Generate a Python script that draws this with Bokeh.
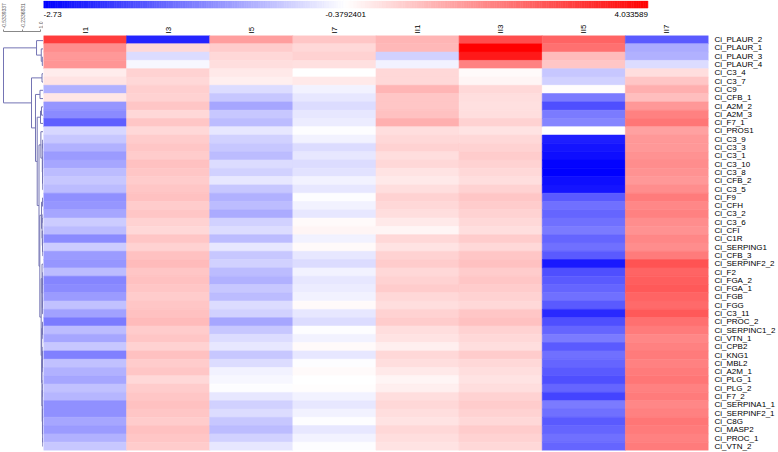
from bokeh.plotting import figure
from bokeh.models import ColumnDataSource, Range1d, FactorRange, FixedTicker
from bokeh.layouts import row, column
from bokeh.embed import file_html
from bokeh.resources import INLINE

columns = ["I1", "I3", "I5", "I7", "II1", "II3", "II5", "II7"]
genes = ["Ci_PLAUR_2", "Ci_PLAUR_1", "Ci_PLAUR_3", "Ci_PLAUR_4", "Ci_C3_4", "Ci_C3_7",
         "Ci_C9", "Ci_CFB_1", "Ci_A2M_2", "Ci_A2M_3", "Ci_F7_1", "Ci_PROS1", "Ci_C3_9",
         "Ci_C3_3", "Ci_C3_1", "Ci_C3_10", "Ci_C3_8", "Ci_CFB_2", "Ci_C3_5", "Ci_F9",
         "Ci_CFH", "Ci_C3_2", "Ci_C3_6", "Ci_CFI", "Ci_C1R", "Ci_SERPING1", "Ci_CFB_3",
         "Ci_SERPINF2_2", "Ci_F2", "Ci_FGA_2", "Ci_FGA_1", "Ci_FGB", "Ci_FGG", "Ci_C3_11",
         "Ci_PROC_2", "Ci_SERPINC1_2", "Ci_VTN_1", "Ci_CPB2", "Ci_KNG1", "Ci_MBL2",
         "Ci_A2M_1", "Ci_PLG_1", "Ci_PLG_2", "Ci_F7_2", "Ci_SERPINA1_1", "Ci_SERPINF2_1",
         "Ci_C8G", "Ci_MASP2", "Ci_PROC_1", "Ci_VTN_2"]

I1 = [3.0, 1.6, 1.4, 1.45, -0.05, 0.1, -1.1, 0.05, -1.35, -1.45, -1.85, -0.75, -0.9, -1.1,
      -1.3, -1.2, -1.0, -0.9, -1.0, -1.4, -1.35, -1.2, -0.85, -1.0, -1.45, -0.85, -1.3, -1.35,
      -1.0, -1.5, -1.45, -1.3, -0.95, -1.25, -1.6, -1.0, -1.2, -0.9, -1.55, -0.95, -1.1, -1.2,
      -0.95, -1.05, -1.4, -1.4, -1.2, -1.3, -1.1, -0.9]
I3 = [-2.4, 0.3, -0.7, -0.45, 0.4, 0.3, 0.45, 0.4, 0.6, 0.3, 0.6, 0.3, 0.5, 0.6, 0.5, 0.7,
      0.6, 0.5, 0.6, 0.7, 0.5, 0.6, 0.4, 0.3, 0.6, 0.4, 0.7, 0.8, 0.6, 0.7, 0.6, 0.5, 0.6, 0.7,
      0.8, 0.5, 0.6, 0.4, 0.7, 0.5, 0.6, 0.3, 0.5, 0.6, 0.7, 0.6, 0.5, 0.7, 0.6, 0.5]
I5 = [1.3, 0.5, 0.3, 0.2, 0.0, -0.1, -0.7, -0.9, -1.2, -0.9, -1.0, -0.6, -0.8, -0.9, -1.0,
      -0.7, -0.8, -0.6, -0.9, -1.1, -1.0, -1.15, -0.8, -0.7, -1.0, -0.6, -0.9, -0.8, -1.0,
      -1.1, -0.9, -1.0, -0.7, -0.8, -1.2, -0.9, -0.7, -0.6, -0.9, -0.7, -0.5, -0.45, -0.4,
      -0.6, -0.8, -0.7, -0.9, -1.0, -0.8, -0.6]
I7 = [0.6, 0.3, 0.4, 0.15, -0.38, 0.0, -0.5, -0.6, -0.7, -0.6, -0.55, -0.4, -0.5, -0.7, -0.6,
      -0.7, -0.65, -0.5, -0.6, -0.4, -0.5, -0.6, -0.3, -0.2, -0.5, -0.3, -0.6, -0.7, -0.5,
      -0.6, -0.55, -0.5, -0.3, -0.6, -0.7, -0.4, -0.5, -0.3, -0.6, -0.4, -0.3, -0.38, -0.35,
      -0.5, -0.6, -0.5, -0.4, -0.6, -0.5, -0.4]
II1 = [0.9, 0.85, -0.8, -0.5, 0.3, 0.3, 0.9, 0.6, 0.6, 0.7, 1.0, 0.2, 0.3, 0.4, 0.2, 0.3, 0.1,
       0.0, 0.2, 0.4, 0.3, 0.2, 0.0, -0.2, 0.3, 0.1, 0.4, 0.5, 0.3, 0.4, 0.5, 0.3, 0.2, 0.4,
       0.5, 0.2, 0.1, -0.1, 0.3, 0.2, 0.0, -0.2, -0.1, 0.2, 0.3, 0.2, 0.1, 0.3, 0.2, 0.1]
II3 = [2.7, 4.03, 3.6, 1.8, -0.3, -0.2, 0.3, 0.2, 0.15, 0.2, 0.4, 0.1, 0.3, 0.4, 0.5, 0.4, 0.3,
       0.2, 0.4, 0.6, 0.5, 0.4, 0.3, 0.2, 0.5, 0.3, 0.6, 0.7, 0.5, 0.6, 0.5, 0.4, 0.3, 0.6, 0.7,
       0.4, 0.3, 0.2, 0.5, 0.3, 0.2, 0.1, 0.2, 0.4, 0.5, 0.4, 0.3, 0.5, 0.4, 0.3]
II5 = [2.3, 2.1, 0.8, 0.6, -0.9, -0.8, -0.35, -1.6, -2.0, -1.6, -1.5, -0.38, -2.45, -2.55, -2.6,
       -2.7, -2.73, -2.6, -2.55, -1.9, -1.7, -1.8, -1.7, -1.6, -1.8, -1.7, -1.9, -2.5, -2.0,
       -1.9, -1.8, -1.7, -1.9, -2.35, -2.0, -1.8, -1.6, -1.9, -1.7, -1.8, -1.9, -2.0, -1.8,
       -2.1, -1.6, -1.7, -1.9, -1.8, -1.7, -1.8]
II7 = [-1.9, -1.15, -1.1, -0.7, 0.2, 0.6, 1.0, 0.75, 1.4, 1.8, 2.0, 1.25, 1.4, 1.4, 1.5, 1.6,
       1.5, 1.4, 1.6, 1.9, 1.7, 1.8, 1.6, 1.5, 1.7, 1.6, 1.9, 2.6, 2.3, 2.4, 2.5, 2.3, 2.2, 2.5,
       2.1, 1.9, 1.7, 1.8, 1.9, 1.8, 1.9, 2.0, 1.8, 1.9, 1.7, 1.8, 2.0, 1.9, 1.8, 1.9]
series = [I1, I3, I5, I7, II1, II3, II5, II7]

scale_values = [-2.73, -0.3792401, 4.033589]
scale_labels = ["-2.73", "-0.3792401", "4.033589"]

# row dendrogram: [left, right, height]; ints are leaf (row) indices
tree = [
    [0, [1, [2, 3, 0.016], 0.030], 0.093],
    [[4, 5, 0.020],
     [[6, 7, 0.047],
      [[[8, 9, 0.027], 10, 0.040],
       [[11, [[12, 13, 0.011], [[14, 15, 0.008], [[16, 17, 0.006], 18, 0.010], 0.013], 0.016], 0.035],
        [[[19, 20, 0.012], [[21, 22, 0.008], [23, [24, [25, 26, 0.009], 0.013], 0.016], 0.019], 0.026],
         [[27, [[28, [29, 30, 0.006], 0.010], [[31, 32, 0.007], 33, 0.012], 0.015], 0.020],
          [[34, [35, 36, 0.009], 0.014],
           [[[37, 38, 0.008], [39, 40, 0.010], 0.013],
            [[[41, 42, 0.005], 43, 0.009],
             [[44, 45, 0.008], [[46, 47, 0.007], [48, 49, 0.009], 0.011], 0.014], 0.017], 0.021],
           0.024], 0.031], 0.049], 0.060], 0.084], 0.107], 0.160],
    0.534]
dendro_ticks = [0.534, 0.280, 0.040]
dendro_tick_labels = ["-0.5339337", "-0.2336831", "1.0"]

FONT = "Liberation Sans"
N = len(genes)


def to_color(v):
    lo, mid, hi = scale_values
    if v <= mid:
        t = min(1.0, (mid - v) / (mid - lo))
        c = int(round(255 * (1 - t)))
        return "#%02x%02x%02x" % (c, c, 255)
    t = min(1.0, (v - mid) / (hi - mid))
    c = int(round(255 * (1 - t)))
    return "#%02x%02x%02x" % (255, c, c)


def frac(v):
    lo, mid, hi = scale_values
    if v <= mid:
        return 0.5 * (v - lo) / (mid - lo)
    return 0.5 + 0.5 * (v - mid) / (hi - mid)


def from_frac(f):
    lo, mid, hi = scale_values
    if f <= 0.5:
        return lo + (mid - lo) * f / 0.5
    return mid + (hi - mid) * (f - 0.5) / 0.5


# ---------------- heatmap ----------------
xs, ys, cs = [], [], []
for ci, col in enumerate(columns):
    for ri, g in enumerate(genes):
        xs.append(col)
        ys.append(g)
        cs.append(to_color(series[ci][ri]))
src = ColumnDataSource(dict(x=xs, y=ys, c=cs))

heat = figure(width=735, height=431, x_range=FactorRange(factors=columns),
              y_range=FactorRange(factors=genes[::-1]),
              x_axis_location="above", y_axis_location="right",
              toolbar_location=None, output_backend="svg",
              min_border_top=13, min_border_bottom=2, min_border_left=0, min_border_right=68)
heat.rect(x="x", y="y", width=1, height=1, source=src, fill_color="c", line_color="c", line_width=0.6)
heat.xgrid.visible = False
heat.ygrid.visible = False
heat.outline_line_color = None
heat.x_range.range_padding = 0
heat.y_range.range_padding = 0
for ax in (heat.xaxis[0], heat.yaxis[0]):
    ax.axis_line_color = None
    ax.major_tick_line_color = None
    ax.minor_tick_line_color = None
    ax.major_tick_out = 0
    ax.major_tick_in = 0
    ax.major_label_text_font = FONT
    ax.major_label_text_font_size = "8px"
    ax.major_label_text_color = "#000000"
heat.xaxis.major_label_orientation = "vertical"
heat.xaxis.major_label_standoff = 2
heat.yaxis.major_label_standoff = 6

# ---------------- colour key ----------------
top = figure(width=735, height=21, x_range=Range1d(0, 735 / 668), y_range=Range1d(21, 0),
             toolbar_location=None, output_backend="svg",
             min_border=0, min_border_left=0, min_border_right=0, min_border_top=0, min_border_bottom=0)
top.axis.visible = False
top.grid.visible = False
top.outline_line_color = None
NSTEP = 256
lefts = [k / NSTEP for k in range(NSTEP)]
rights = [(k + 1) / NSTEP for k in range(NSTEP)]
kcol = [to_color(from_frac((k + 0.5) / NSTEP)) for k in range(NSTEP)]
top.quad(left=lefts, right=rights, top=0.5, bottom=7.5, fill_color=kcol, line_color=kcol, line_width=0.6)
aligns = ["left", "center", "right"]
for v, lab, al in zip(scale_values, scale_labels, aligns):
    top.text(x=[frac(v)], y=[11], text=[lab], text_align=al, text_baseline="top",
             text_font_size="8px", text_font={"value": FONT}, text_color="#000000")

# ---------------- dendrogram ----------------
ROW_PX = 416 / N
dend = figure(width=43, height=452, x_range=Range1d(43 * 0.534 / 40, 0),
              y_range=Range1d(0, 421 / ROW_PX),
              x_axis_location="above", toolbar_location=None, output_backend="svg",
              min_border_top=29, min_border_bottom=2, min_border_left=0, min_border_right=0)
dend.yaxis.visible = False
dend.grid.visible = False
dend.outline_line_color = None
LEAF_END = 0.0
seg = dict(x0=[], y0=[], x1=[], y1=[])


def walk(node):
    if isinstance(node, int):
        return (N - 0.5 - node), LEAF_END
    l, r, h = node
    yl, hl = walk(l)
    yr, hr = walk(r)
    for yy, hh in ((yl, hl), (yr, hr)):
        seg["x0"].append(h); seg["y0"].append(yy); seg["x1"].append(hh); seg["y1"].append(yy)
    seg["x0"].append(h); seg["y0"].append(yl); seg["x1"].append(h); seg["y1"].append(yr)
    return (yl + yr) / 2, h


walk(tree)
dend.segment(x0="x0", y0="y0", x1="x1", y1="y1", source=ColumnDataSource(seg),
             line_color="#7474b4", line_width=1)
ax = dend.xaxis[0]
ax.ticker = FixedTicker(ticks=dendro_ticks)
ax.major_label_overrides = {t: l for t, l in zip(dendro_ticks, dendro_tick_labels)}
ax.bounds = (min(dendro_ticks), max(dendro_ticks))
ax.major_label_orientation = "vertical"
ax.major_label_text_font = FONT
ax.major_label_text_font_size = "5px"
ax.major_label_text_color = "#555555"
ax.major_label_standoff = 1
ax.major_tick_out = 2
ax.major_tick_in = 0
ax.minor_tick_line_color = None
ax.axis_line_color = "#888888"
ax.major_tick_line_color = "#888888"

layout = row(dend, column(top, heat))
open("out.html", "w").write(file_html(layout, INLINE))
